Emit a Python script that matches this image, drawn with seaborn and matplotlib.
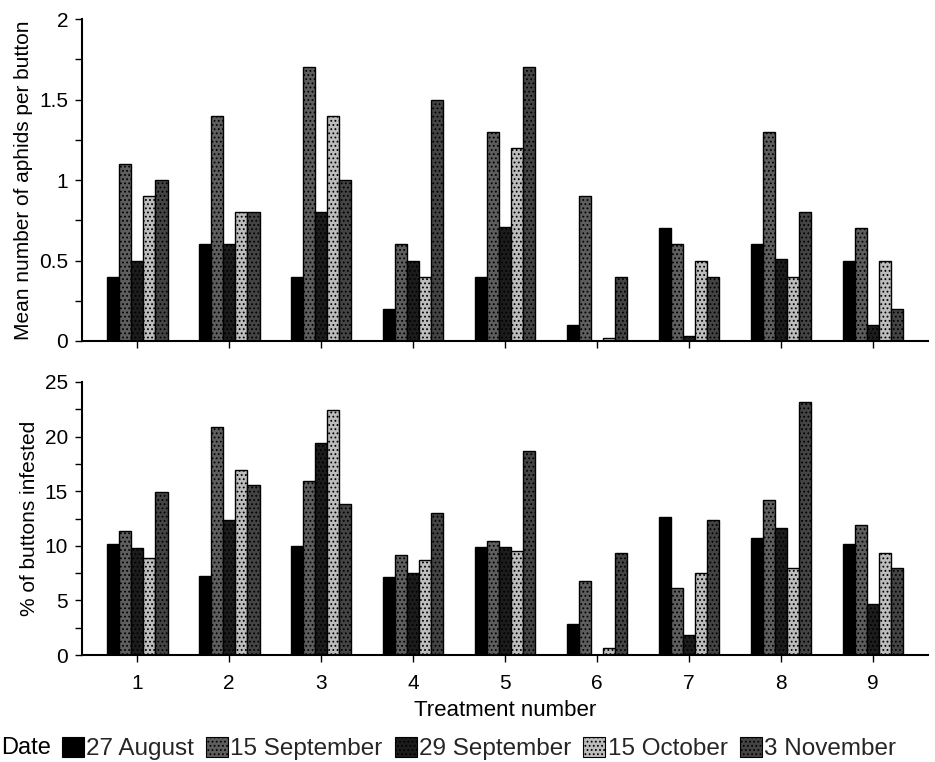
import matplotlib
matplotlib.use("Agg")
import matplotlib.pyplot as plt
import seaborn as sns
import pandas as pd
import numpy as np
from matplotlib.ticker import MultipleLocator
from matplotlib.patches import Patch

treatments = ["1", "2", "3", "4", "5", "6", "7", "8", "9"]
dates = ["27 August", "15 September", "29 September", "15 October", "3 November"]

aphids_27aug = [0.40, 0.60, 0.40, 0.20, 0.40, 0.10, 0.70, 0.60, 0.50]
aphids_15sep = [1.10, 1.40, 1.70, 0.60, 1.30, 0.90, 0.60, 1.30, 0.70]
aphids_29sep = [0.50, 0.60, 0.80, 0.50, 0.71, 0.00, 0.03, 0.51, 0.10]
aphids_15oct = [0.90, 0.80, 1.40, 0.40, 1.20, 0.02, 0.50, 0.40, 0.50]
aphids_03nov = [1.00, 0.80, 1.00, 1.50, 1.70, 0.40, 0.40, 0.80, 0.20]

infest_27aug = [10.2, 7.2, 10.0, 7.1, 9.9, 2.8, 12.6, 10.7, 10.2]
infest_15sep = [11.4, 20.9, 15.9, 9.2, 10.4, 6.8, 6.1, 14.2, 11.9]
infest_29sep = [9.8, 12.4, 19.4, 7.5, 9.9, 0.0, 1.8, 11.6, 4.7]
infest_15oct = [8.9, 16.9, 22.4, 8.7, 9.5, 0.6, 7.5, 8.0, 9.3]
infest_03nov = [14.9, 15.6, 13.8, 13.0, 18.7, 9.3, 12.4, 23.2, 8.0]

colors = ["#000000", "#5e5e5e", "#1c1c1c", "#bdbdbd", "#444444"]
hatches = [None, "....", "....", "....", "...."]

def long_df(series):
    rows = []
    for d, vals in zip(dates, series):
        for t, v in zip(treatments, vals):
            rows.append({"Treatment": t, "Date": d, "value": v})
    return pd.DataFrame(rows)

df_top = long_df([aphids_27aug, aphids_15sep, aphids_29sep, aphids_15oct, aphids_03nov])
df_bot = long_df([infest_27aug, infest_15sep, infest_29sep, infest_15oct, infest_03nov])

sns.set_theme(style="ticks")
plt.rcParams["font.family"] = ["Liberation Sans", "DejaVu Sans"]
plt.rcParams["hatch.linewidth"] = 0.8

fig = plt.figure(figsize=(9.35, 7.62), dpi=100)
fig.patch.set_facecolor("white")
ax1 = fig.add_axes([0.0877, 0.5525, 0.905, 0.4225])
ax2 = fig.add_axes([0.0877, 0.1404, 0.905, 0.3583])

pal = dict(zip(dates, colors))
for ax, df in [(ax1, df_top), (ax2, df_bot)]:
    sns.barplot(data=df, x="Treatment", y="value", hue="Date", hue_order=dates,
                order=treatments, palette=pal, width=0.66, gap=0,
                edgecolor="black", linewidth=1.0, legend=False, ax=ax, saturation=1)
    for cont, h in zip(ax.containers, hatches):
        for p in cont:
            if h:
                p.set_hatch(h)
    ax.set_xlim(-0.6, 8.6)
    ax.set_facecolor("white")
    for s in ["top", "right"]:
        ax.spines[s].set_visible(False)
    for s in ["left", "bottom"]:
        ax.spines[s].set_linewidth(1.5)
        ax.spines[s].set_color("black")
    ax.tick_params(axis="both", which="both", direction="out", color="black",
                   labelsize=15, labelcolor="black")
    ax.tick_params(axis="x", length=5, width=1, pad=9)
    ax.tick_params(axis="y", which="major", length=5, width=1, pad=5)
    ax.tick_params(axis="y", which="minor", length=5, width=1)
    ax.set_xlabel("")

ax1.set_ylim(0, 2)
ax1.yaxis.set_major_locator(MultipleLocator(0.5))
ax1.yaxis.set_minor_locator(MultipleLocator(0.25))
ax1.set_yticks([0, 0.5, 1, 1.5, 2])
ax1.set_yticklabels(["0", "0.5", "1", "1.5", "2"])
ax1.set_xticklabels([])
ax1.set_ylabel("Mean number of aphids per button", fontsize=15, color="black")

ax2.set_ylim(0, 25)
ax2.yaxis.set_major_locator(MultipleLocator(5))
ax2.yaxis.set_minor_locator(MultipleLocator(2.5))
ax2.set_ylabel("% of buttons infested", fontsize=15, color="black")
ax2.set_xlabel("Treatment number", fontsize=16, color="black", labelpad=5)

fig.align_ylabels([ax1, ax2])

handles = [Patch(facecolor=c, edgecolor="black", hatch=h, linewidth=0.8)
           for c, h in zip(colors, hatches)]
fig.text(0.001, 0.018, "Date", fontsize=17, color="black", va="center")
fig.legend(handles, dates, loc="center left", bbox_to_anchor=(0.066, 0.018),
           ncol=5, frameon=False, fontsize=17.5, handlelength=0.9, handleheight=0.9,
           handletextpad=0.1, columnspacing=0.5, borderaxespad=0, borderpad=0)

fig.savefig("out.png", dpi=100, facecolor="white")
